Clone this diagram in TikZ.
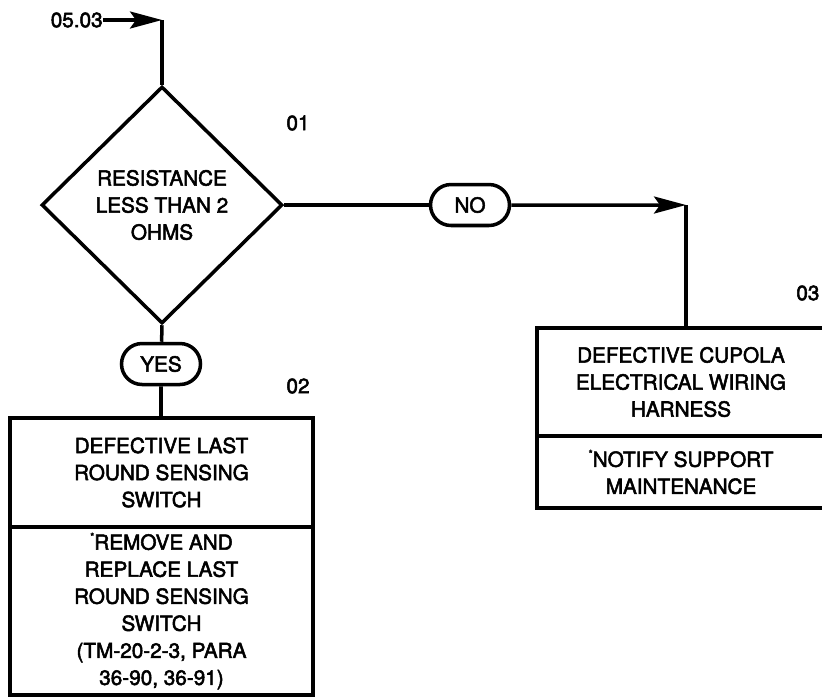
\documentclass[tikz,border=0pt]{standalone}
\usepackage{fontspec}
\setmainfont{TeX Gyre Heros}
\newfontfamily\chartfont{TeX Gyre Heros}[BoldFont=TeX Gyre Heros, BoldFeatures={FakeBold=2.5}]
\usepackage{tikz}
\usetikzlibrary{shapes,arrows.meta,positioning,calc}

\newcommand{\note}{\raisebox{0.45em}{\fontsize{6}{6}\selectfont *}}

\begin{document}
\begin{tikzpicture}[
  x=0.02cm, y=-0.02cm,
  every node/.style={font=\chartfont\bfseries\fontsize{11.8}{15.4}\selectfont},
  line/.style={line width=2pt},
  arrow/.style={line, -{Stealth[length=6.4mm, width=3.4mm, inset=1.2mm]}},
  box/.style={rectangle, draw, line width=2pt, align=center, inner sep=0pt},
  decision/.style={diamond, draw, line width=2pt, align=center, inner sep=0pt,
    minimum width=4.82cm, minimum height=4.74cm},
  answer/.style={rounded rectangle, draw, line width=2pt, inner sep=0pt,
    minimum width=1.58cm, minimum height=0.82cm},
  stepno/.style={inner sep=0pt}
]
  \useasboundingbox (0,0) rectangle (822,698);

  % Entry
  \node[stepno, anchor=east] (entry) at (103,20) {05.03};
  \coordinate (entrycorner) at (162,20);

  % Step 01
  \node[decision] (resist) at (162,205) {RESISTANCE\\LESS THAN 2\\OHMS};
  \node[stepno] (num01) at (298,123) {01};

  % Answers
  \node[answer] (yes) at (161,364) {YES};
  \node[answer] (no) at (470,205) {NO};
  \coordinate (nocorner) at (686,205);

  % Step 02 (left)
  \node[stepno] (num02) at (298,386) {02};
  \node[box, minimum width=6.06cm, minimum height=2.18cm] (switch) at (161.5,472.5)
    {DEFECTIVE LAST\\ROUND SENSING\\SWITCH};
  \node[box, minimum width=6.06cm, minimum height=3.36cm] (replace) at (161.5,611)
    {\note REMOVE AND\\REPLACE LAST\\ROUND SENSING\\SWITCH\\(TM-20-2-3, PARA\\36-90, 36-91)};

  % Step 03 (right)
  \node[stepno, anchor=west] (num03) at (796,293) {03};
  \node[box, minimum width=5.76cm, minimum height=2.16cm] (harness) at (681,382)
    {DEFECTIVE CUPOLA\\ELECTRICAL WIRING\\HARNESS};
  \node[box, minimum width=5.76cm, minimum height=1.44cm] (support) at (681,472)
    {\note NOTIFY SUPPORT\\MAINTENANCE};

  % Arrows
  \draw[arrow] (entry) -- (entrycorner);
  \draw[line] (entrycorner) -- (resist.north);
  \draw[line] (resist.south) -- (yes);
  \draw[line] (yes) -- (switch.north -| yes);
  \draw[line] (resist.east) -- (no);
  \draw[arrow] (no) -- (nocorner);
  \draw[line] (nocorner) -- (nocorner |- harness.north);
\end{tikzpicture}
\end{document}
